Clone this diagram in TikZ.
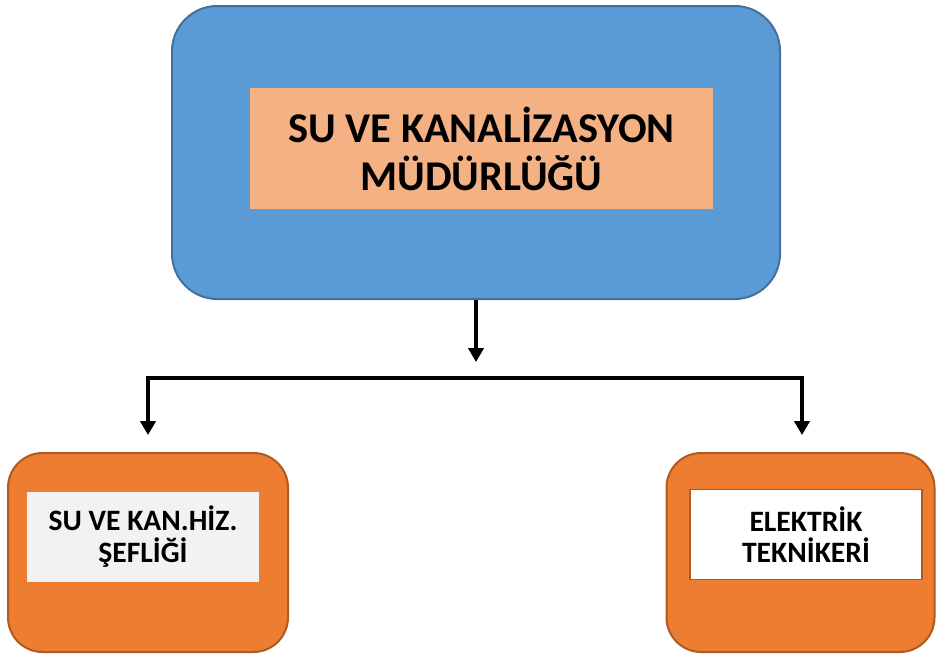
\documentclass[tikz,border=0pt]{standalone}
\usepackage{fontspec}
\setmainfont{Carlito}
\usetikzlibrary{arrows.meta}

\definecolor{boxblue}{HTML}{5B9BD5}
\definecolor{boxblueline}{HTML}{41719C}
\definecolor{titlesalmon}{HTML}{F4B183}
\definecolor{boxorange}{HTML}{ED7D31}
\definecolor{boxorangeline}{HTML}{AE5A21}
\definecolor{labelgray}{HTML}{F2F2F2}

\tikzset{
    mainbox/.style={draw=boxblueline, fill=boxblue, line width=1.5pt, rounded corners=34pt,
        minimum width=456pt, minimum height=219.75pt},
    unitbox/.style={draw=boxorangeline, fill=boxorange, line width=1.5pt, rounded corners=26pt,
        minimum height=149.25pt},
    titlelabel/.style={fill=titlesalmon, minimum width=347.25pt, minimum height=90.75pt,
        align=center, font=\bfseries\fontsize{31.8}{36}\selectfont},
    unitlabel/.style={minimum width=174pt, minimum height=67.5pt, align=center,
        font=\bfseries\fontsize{22.2}{23.5}\selectfont},
    conn/.style={line width=2.4pt, line join=miter}
}

\begin{document}
\begin{tikzpicture}[x=0.75pt,y=-0.75pt]
    % Canvas
    \useasboundingbox[fill=white] (0,0) rectangle (938,658);

    % Top box
    \node[mainbox] (mudurluk) at (476,152.5) {};
    \node[titlelabel] (mudurlukText) at (481.5,148.5) {SU VE KANALİZASYON\\MÜDÜRLÜĞÜ};

    % Unit boxes
    \node[unitbox, minimum width=210pt] (sefligi) at (148,552.5) {};
    \node[unitlabel, fill=labelgray] (sefligiText) at (143,536.5) {SU VE KAN.HİZ.\\ŞEFLİĞİ};
    \node[unitbox, minimum width=201pt] (tekniker) at (800.5,552.5) {};
    \node[unitlabel, fill=white, draw=boxorangeline, line width=1.2pt] (teknikerText) at (806,534.5) {ELEKTRİK\\TEKNİKERİ};

    % Connectors
    \coordinate (split) at (476,362);
    \coordinate (leftTurn) at (148,378);
    \coordinate (rightTurn) at (802,378);
    \coordinate (leftEnd) at (148,435);
    \coordinate (rightEnd) at (802,435);
    \draw[conn, -{Triangle[width=11.5pt,length=10.5pt]}] (mudurluk.south) -- (split);
    \draw[conn, {Triangle[width=11.5pt,length=10.5pt]}-{Triangle[width=11.5pt,length=10.5pt]}]
        (leftEnd) -- (leftTurn) -- (rightTurn) -- (rightEnd);
\end{tikzpicture}
\end{document}
